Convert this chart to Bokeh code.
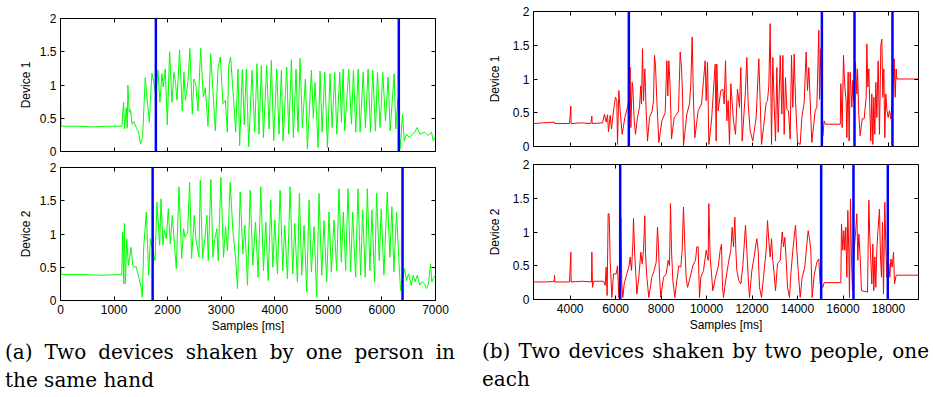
from bokeh.plotting import figure
from bokeh.models import (Range1d, LinearAxis, FixedTicker, NumeralTickFormatter,
                          Span, Div, ColumnDataSource)
from bokeh.layouts import row, column
from bokeh.embed import file_html
from bokeh.resources import INLINE

# ---------------- data ----------------
# (a) Device 1, one person, same hand  -- time [ms], magnitude
a1_x = [0, 12, 300, 600, 900, 1146, 1177, 1196, 1227, 1246, 1258, 1283, 1308, 1333, 1370, 1414,
        1457, 1495, 1532, 1582, 1619, 1657, 1706, 1744, 1780, 1819, 1856, 1893, 1918, 1956, 1993,
        2037, 2080, 2118, 2149, 2174, 2223, 2273, 2304, 2329, 2379, 2416, 2460, 2491, 2529, 2566,
        2616, 2666, 2703, 2753, 2803, 2852, 2890, 2940, 2983, 3033, 3077, 3114, 3139, 3176, 3232,
        3270, 3313, 3344, 3394, 3430, 3469, 3513, 3575, 3625, 3668, 3706, 3749, 3787, 3849, 3893,
        3936, 3980, 4036, 4079, 4123, 4154, 4223, 4260, 4310, 4347, 4397, 4434, 4472, 4515, 4571,
        4609, 4683, 4720, 4752, 4808, 4845, 4883, 4933, 4982, 5032, 5070, 5119, 5157, 5213, 5244,
        5275, 5306, 5381, 5431, 5468, 5512, 5555, 5593, 5649, 5692, 5742, 5786, 5829, 5879, 5917,
        5966, 6016, 6066, 6116, 6153, 6228, 6259, 6300, 6340, 6384, 6415, 6458, 6514, 6564, 6614,
        6658, 6708, 6801, 6863, 6925, 6957, 6988, 7000]
a1_y = [1.00, 0.38, 0.38, 0.37, 0.38, 0.38, 0.74, 0.34, 0.66, 0.35, 1.00, 0.59, 0.63, 0.41, 0.45, 0.36,
        0.29, 0.11, 0.21, 1.11, 0.77, 0.44, 1.18, 1.03, 0.85, 1.22, 0.74, 1.17, 0.97, 1.24, 0.40,
        1.50, 0.74, 1.19, 1.02, 0.77, 1.53, 0.61, 1.19, 0.77, 1.05, 1.55, 0.56, 1.09, 0.99, 0.61,
        1.55, 0.82, 0.96, 0.38, 1.47, 0.82, 0.31, 1.25, 1.42, 0.72, 0.77, 0.29, 1.29, 1.42, 0.77,
        0.29, 1.24, 0.09, 1.23, 0.40, 1.24, 0.07, 1.22, 0.29, 1.32, 0.26, 1.29, 0.21, 1.29, 0.34,
        1.37, 0.16, 1.24, 0.26, 1.22, 0.16, 1.27, 0.26, 1.38, 0.21, 1.24, 0.29, 1.40, 0.36, 1.09,
        0.04, 1.22, 0.50, 1.04, 0.06, 1.21, 0.29, 1.19, 0.06, 1.17, 0.36, 1.19, 0.26, 1.19, 0.44,
        1.24, 0.31, 1.24, 0.41, 1.22, 0.29, 1.24, 0.29, 1.19, 0.36, 1.24, 0.29, 1.22, 0.31, 1.19,
        0.36, 1.19, 0.46, 1.12, 0.31, 1.17, 0.34, 0.80, 0.04, 0.56, 0.16, 0.26, 0.21, 0.26, 0.29,
        0.36, 0.26, 0.29, 0.24, 0.29, 0.16, 0.21, 0.20]
a1_bounds = [1780, 6315]

# (a) Device 2
a2_x = [0, 12, 400, 800, 1143, 1161, 1180, 1193, 1211, 1236, 1267, 1292, 1317, 1348, 1379, 1410,
        1453, 1503, 1528, 1553, 1602, 1646, 1677, 1702, 1764, 1801, 1851, 1876, 1913, 1938, 1975,
        2012, 2050, 2087, 2124, 2161, 2211, 2261, 2298, 2323, 2373, 2410, 2447, 2497, 2528, 2584,
        2609, 2652, 2696, 2733, 2758, 2807, 2845, 2882, 2919, 2944, 2994, 3043, 3081, 3118, 3168,
        3217, 3267, 3304, 3354, 3404, 3441, 3491, 3540, 3590, 3640, 3689, 3739, 3789, 3832, 3876,
        3925, 3963, 4000, 4050, 4099, 4149, 4186, 4236, 4286, 4335, 4373, 4422, 4459, 4503, 4546,
        4596, 4640, 4683, 4733, 4782, 4826, 4876, 4919, 4969, 5012, 5056, 5105, 5155, 5199, 5242,
        5279, 5323, 5366, 5416, 5453, 5509, 5553, 5602, 5640, 5689, 5727, 5776, 5813, 5863, 5900,
        5950, 5987, 6037, 6099, 6149, 6186, 6223, 6273, 6323, 6348, 6422, 6460, 6497, 6546, 6584,
        6621, 6658, 6708, 6745, 6795, 6832, 6870, 6907, 6932, 6969, 7000]
a2_y = [0.55, 0.39, 0.39, 0.38, 0.39, 1.03, 0.25, 1.16, 0.25, 0.93, 0.53, 0.65, 0.80, 0.53, 0.50, 0.51,
        0.38, 0.20, 0.05, 0.80, 1.33, 0.38, 0.93, 0.83, 0.60, 1.48, 0.83, 1.53, 0.83, 1.06, 0.93,
        1.38, 0.85, 1.28, 0.88, 0.48, 1.71, 0.63, 1.08, 0.95, 1.03, 1.78, 0.63, 1.28, 0.93, 0.65,
        1.81, 0.63, 0.93, 1.28, 0.60, 1.82, 0.65, 0.93, 1.08, 0.60, 1.85, 0.65, 1.11, 0.75, 1.78,
        1.06, 0.65, 0.18, 1.63, 0.70, 1.13, 0.23, 1.66, 0.53, 1.18, 0.35, 1.71, 0.45, 1.18, 0.30,
        1.51, 0.50, 1.21, 0.40, 1.66, 0.45, 1.13, 0.33, 1.71, 0.40, 1.16, 0.28, 1.61, 0.38, 1.13,
        0.13, 1.51, 0.43, 1.11, 0.05, 1.61, 0.38, 1.20, 0.28, 1.33, 0.43, 1.21, 0.45, 1.68, 0.58,
        1.33, 0.45, 1.68, 0.43, 1.33, 0.35, 1.68, 0.38, 1.36, 0.35, 1.68, 0.45, 1.36, 0.28, 1.61,
        0.60, 1.38, 0.38, 1.63, 0.65, 1.41, 0.43, 1.33, 0.50, 0.15, 0.48, 0.30, 0.40, 0.23, 0.38,
        0.28, 0.38, 0.23, 0.28, 0.25, 0.18, 0.25, 0.55, 0.28, 0.35, 0.38]
a2_bounds = [1720, 6385]

# (b) Device 1, two people, one each
b1_x = [2387, 2800, 3311, 3320, 3971, 4029, 4040, 4500, 4909, 4953, 4970, 5422, 5510, 5583, 5642,
        5686, 5759, 5818, 5906, 5994, 6052, 6082, 6140, 6199, 6287, 6404, 6521, 6580, 6639, 6668,
        6727, 6756, 6815, 6873, 6961, 7049, 7108, 7137, 7181, 7225, 7284, 7342, 7401, 7489, 7606,
        7665, 7709, 7753, 7812, 7900, 8032, 8178, 8251, 8295, 8339, 8398, 8457, 8574, 8691, 8765,
        8838, 8896, 8940, 8984, 9131, 9248, 9307, 9365, 9424, 9483, 9629, 9776, 9864, 9937, 9981,
        10040, 10099, 10216, 10377, 10421, 10450, 10509, 10626, 10714, 10773, 10832, 10890, 10949,
        11007, 11066, 11183, 11271, 11359, 11447, 11506, 11565, 11711, 11770, 11829, 11916, 12033,
        12180, 12297, 12356, 12415, 12503, 12620, 12679, 12737, 12796, 12855, 12913, 12972, 13031,
        13090, 13148, 13238, 13310, 13354, 13413, 13471, 13530, 13603, 13676, 13735, 13794, 13852,
        13911, 13998, 14116, 14189, 14291, 14379, 14438, 14497, 14555, 14629, 14775, 14848, 14936,
        14966, 15025, 15113, 15171, 15230, 15880, 15904, 15963, 16021, 16080, 16138, 16168, 16226,
        16270, 16314, 16387, 16431, 16460, 16549, 16608, 16637, 16696, 16754, 16842, 16930, 17018,
        17048, 17092, 17136, 17179, 17223, 17267, 17312, 17355, 17399, 17443, 17487, 17546, 17604,
        17663, 17707, 17751, 17795, 17839, 17883, 17927, 17986, 18044, 18103, 18191, 18250, 18294,
        18338, 18367, 19320]
b1_y = [0.34, 0.35, 0.36, 0.34, 0.34, 0.60, 0.34, 0.35, 0.34, 0.45, 0.34, 0.35, 0.48, 0.36, 0.47,
        0.22, 0.46, 0.26, 0.53, 0.73, 0.68, 0.03, 0.83, 0.53, 0.18, 0.43, 0.58, 0.70, 1.17, 0.28,
        0.95, 0.88, 0.38, 0.18, 0.43, 0.58, 0.90, 0.63, 1.45, 0.68, 1.15, 0.53, 0.08, 0.43, 0.53,
        0.68, 1.35, 1.20, 0.68, 0.06, 0.38, 0.50, 1.27, 0.75, 1.27, 0.88, 0.11, 0.43, 0.48, 0.53,
        1.40, 1.17, 0.78, 0.01, 0.48, 0.63, 0.93, 1.62, 0.68, 0.13, 0.53, 0.63, 0.98, 1.27, 0.68,
        1.25, 0.03, 0.38, 1.22, 0.08, 1.22, 0.53, 0.83, 0.85, 0.63, 1.27, 0.38, 0.68,
        0.03, 0.93, 0.38, 0.18, 0.85, 0.58, 1.17, 0.08, 0.83, 1.32, 0.63, 0.23, 0.08,
        0.43, 1.30, 0.68, 0.03, 0.28, 0.65, 0.68, 0.90, 1.82, 0.03, 1.32, 0.63, 0.08,
        1.17, 0.21, 1.35, 0.48, 1.35, 0.18, 1.02, 0.55, 0.53, 0.11, 1.35, 0.58, 1.37,
        0.68, 0.06, 0.03, 0.43, 0.65, 1.40, 0.83, 1.17, 0.68, 0.06, 0.53, 0.58, 1.72,
        0.70, 1.45, 0.16, 0.38, 0.33, 0.33, 0.93, 0.28, 1.35, 0.88, 0.68, 0.13, 1.10,
        0.08, 1.10, 0.58, 0.98, 0.68, 1.25, 0.78, 1.15, 0.46, 0.16, 0.41, 0.41, 0.73,
        1.52, 0.88, 1.15, 0.58, 0.08, 0.78, 0.03, 0.73, 0.18, 0.95, 0.43, 1.27, 0.18,
        1.50, 1.59, 0.73, 1.15, 0.13, 0.78, 0.55, 0.43, 0.53, 0.41, 0.78, 1.30, 0.73,
        1.15, 1.00, 1.00]
b1_bounds = [6580, 15070, 16505, 18175]

# (b) Device 2
b2_x = [2387, 3000, 3300, 3311, 3325, 3971, 4029, 4040, 4500, 4940, 4953, 4982, 5026, 5466, 5539,
        5583, 5627, 5671, 5715, 5759, 5833, 5906, 6023, 6082, 6140, 6228, 6272, 6316, 6375, 6492,
        6580, 6639, 6697, 6756, 6785, 6844, 6888, 6932, 7020, 7108, 7166, 7225, 7284, 7313, 7372,
        7460, 7592, 7694, 7782, 7841, 7885, 7929, 7988, 8105, 8222, 8310, 8369, 8413, 8457, 8515,
        8603, 8691, 8779, 8867, 8926, 8984, 9043, 9102, 9160, 9278, 9395, 9512, 9571, 9629, 9688,
        9747, 9864, 9981, 10069, 10099, 10157, 10216, 10274, 10392, 10509, 10597, 10656, 10700,
        10744, 10861, 10978, 11066, 11125, 11183, 11242, 11286, 11330, 11418, 11506, 11594, 11711,
        11770, 11829, 11887, 11990, 12092, 12151, 12210, 12268, 12327, 12415, 12503, 12620, 12679,
        12737, 12796, 12855, 12913, 12972, 13031, 13119, 13238, 13325, 13384, 13442, 13501, 13560,
        13647, 13706, 13794, 13852, 13911, 13969, 14028, 14116, 14203, 14320, 14409, 14467, 14526,
        14585, 14643, 14731, 14848, 14936, 14995, 15113, 15171, 15880, 15904, 15934, 15993, 16036,
        16080, 16124, 16168, 16212, 16256, 16285, 16329, 16373, 16417, 16490, 16549, 16608, 16651,
        16696, 16754, 16813, 17077, 17136, 17179, 17223, 17267, 17312, 17355, 17399, 17443, 17487,
        17546, 17604, 17648, 17692, 17736, 17780, 17839, 17883, 17927, 18015, 18059, 18103, 18162,
        18221, 18265, 18338, 19320]
b2_y = [0.26, 0.26, 0.27, 0.36, 0.26, 0.26, 0.70, 0.26, 0.27, 0.26, 0.70, 0.18, 0.27, 0.27, 0.21,
        0.48, 0.06, 1.27, 1.27, 0.58, 0.03, 0.38, 0.38, 0.50, 0.03, 1.20, 0.23, 0.03, 0.23, 0.38,
        0.48, 0.63, 0.43, 0.82, 1.20, 0.63, 0.38, 0.08, 0.33, 0.70, 0.53, 0.73, 1.24, 0.68, 0.33,
        0.03, 0.33, 0.43, 0.55, 1.07, 0.78, 0.33, 0.03, 0.33, 0.38, 0.58, 0.50, 1.42, 0.73, 0.28,
        0.03, 0.28, 0.50, 0.48, 0.73, 1.37, 0.78, 0.33, 0.18, 0.33, 0.50, 0.58, 0.78, 0.78, 0.03,
        0.33, 0.43, 0.73, 0.58, 1.42, 0.63, 0.38, 0.13, 0.33, 0.48, 0.73, 0.82, 0.18,
        0.03, 0.33, 0.58, 0.73, 1.07, 0.78, 1.22, 0.73, 0.43, 0.28, 0.23, 0.50, 1.10,
        0.73, 0.33, 0.03, 0.43, 0.63, 0.78, 0.90, 0.73, 0.18, 0.03, 0.33, 0.73, 1.17,
        0.87, 0.63, 0.90, 0.58, 0.38, 0.13, 0.53, 0.58, 1.00, 0.78, 0.92, 0.58, 0.18,
        0.03, 0.38, 0.73, 0.92, 1.10, 0.73, 0.43, 0.03, 0.33, 0.48, 0.82, 1.02, 0.90,
        0.73, 0.03, 0.36, 0.55, 0.60, 0.23, 0.18, 0.25, 0.25, 0.25, 1.12, 0.73, 1.02,
        0.73, 1.07, 0.33, 1.32, 0.68, 0.03, 1.49, 0.58, 0.13, 0.73, 0.97, 1.27, 0.58,
        0.97, 0.63, 0.13, 0.11, 1.47, 0.92, 0.58, 0.23, 0.82, 0.13, 0.63, 0.18, 0.73,
        1.07, 1.34, 0.63, 0.33, 1.15, 0.08, 1.44, 0.78, 0.33, 0.53, 0.33, 0.60, 0.48,
        0.70, 0.23, 0.36, 0.36]
b2_bounds = [6200, 15040, 16460, 17970]

a_xticks = [0, 1000, 2000, 3000, 4000, 5000, 6000, 7000]
b_xticks = [4000, 6000, 8000, 10000, 12000, 14000, 16000, 18000]
y_ticks = [0, 0.5, 1, 1.5, 2]

caption_a = ["(a) Two devices shaken by one person in", "the same hand"]
caption_b = ["(b) Two devices shaken by two people, one", "each"]

# ---------------- drawing ----------------
TICK_FONT = "Liberation Sans"


def style_axis(ax, ticker_vals, show_labels, fmt):
    ax.ticker = FixedTicker(ticks=ticker_vals)
    ax.formatter = fmt
    ax.major_tick_in = 4
    ax.major_tick_out = 0
    ax.major_tick_line_color = "black"
    ax.minor_tick_line_color = None
    ax.axis_line_color = "black"
    ax.major_label_text_font = TICK_FONT
    ax.axis_label_text_font = TICK_FONT
    ax.axis_label_text_font_size = "12px"
    ax.axis_label_text_font_style = "normal"
    ax.axis_label_text_color = "black"
    ax.axis_label_standoff = 2
    if show_labels:
        ax.major_label_text_color = "black"
        ax.major_label_text_font_size = "12px"
        ax.major_label_standoff = 4
    else:
        # tick marks only: labels are not drawn at all
        ax.major_label_text_color = None
        ax.major_label_text_font_size = "1px"
        ax.major_label_standoff = 0


def make_panel(xs, ys, bounds, color, xr, xticks, ylabel, xlabel,
               fw, fh, bl, br, bt, bb, ylab_standoff):
    p = figure(frame_width=fw, frame_height=fh,
               x_range=Range1d(*xr), y_range=Range1d(0, 2),
               output_backend="svg", toolbar_location=None, tools="",
               min_border_left=bl, min_border_right=br,
               min_border_top=bt, min_border_bottom=bb,
               background_fill_color="white", border_fill_color="white")
    p.grid.visible = False
    p.outline_line_color = "black"
    p.outline_line_width = 1

    src = ColumnDataSource(dict(x=xs, y=ys))
    p.line("x", "y", source=src, line_color=color, line_width=1)
    for b in bounds:
        p.add_layout(Span(location=b, dimension="height",
                          line_color="#0000FF", line_width=2.5))

    style_axis(p.xaxis[0], xticks, xlabel is not None, NumeralTickFormatter(format="0"))
    if xlabel:
        p.xaxis[0].axis_label = xlabel
    style_axis(p.yaxis[0], y_ticks, True, NumeralTickFormatter(format="0.[0]"))
    p.yaxis[0].axis_label = ylabel
    p.yaxis[0].axis_label_standoff = ylab_standoff

    top = LinearAxis()
    style_axis(top, xticks, False, NumeralTickFormatter(format="0"))
    top.axis_line_color = None
    p.add_layout(top, "above")
    right = LinearAxis()
    style_axis(right, y_ticks, False, NumeralTickFormatter(format="0.[0]"))
    right.axis_line_color = None
    p.add_layout(right, "right")
    return p


GREEN = "#00FF00"
RED = "#FF0000"

p_a1 = make_panel(a1_x, a1_y, a1_bounds, GREEN, (0, 7000), a_xticks, "Device 1", None,
                  375, 133, 60, 31, 18, 8, 4)
p_a2 = make_panel(a2_x, a2_y, a2_bounds, GREEN, (0, 7000), a_xticks, "Device 2", "Samples [ms]",
                  375, 133, 60, 31, 8, 32, 4)
p_b1 = make_panel(b1_x, b1_y, b1_bounds, RED, (2387, 19320), b_xticks, "Device 1", None,
                  385, 135, 67, 15, 11, 9, 8)
p_b2 = make_panel(b2_x, b2_y, b2_bounds, RED, (2387, 19320), b_xticks, "Device 2", "Samples [ms]",
                  385, 135, 67, 15, 9, 33, 8)


def caption(lines, pad_left, text_w, total_w, first_style):
    html = ('<div style="font-family:\'DejaVu Serif\',serif;font-size:20px;line-height:28px;'
            'color:#000;padding:3px 0 0 %dpx;width:%dpx;">' % (pad_left, text_w))
    html += '<div style="%s">%s</div>' % (first_style, lines[0])
    html += '<div style="white-space:nowrap;">%s</div></div>' % lines[1]
    return Div(text=html, width=total_w, height=65, margin=0)


cap_a = caption(caption_a, 5, 455, 466, "text-align:justify;text-align-last:justify;")
cap_b = caption(caption_b, 16, 446, 467, "white-space:nowrap;word-spacing:1.8px;")

layout = row(column(p_a1, p_a2, cap_a), column(p_b1, p_b2, cap_b))

open("out.html", "w").write(file_html(layout, INLINE))
